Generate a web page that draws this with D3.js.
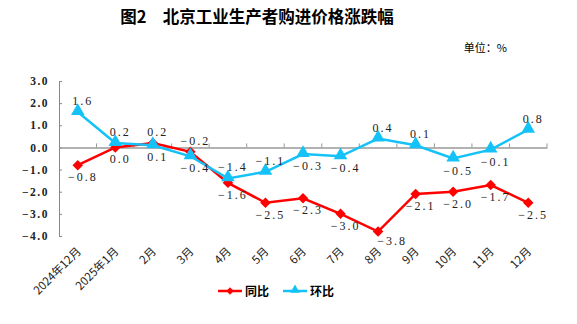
<!DOCTYPE html>
<html>
<head>
<meta charset="utf-8">
<script src="https://cdn.jsdelivr.net/npm/d3@7"></script>
<style>
  body { margin: 0; background: #fff; }
  text { font-family: "Liberation Serif", "Noto Sans CJK SC", serif; }
</style>
</head>
<body>
<div class="chart"></div>
<script>
var months = ["2024年12月", "2025年1月", "2月", "3月", "4月", "5月", "6月", "7月", "8月", "9月", "10月", "11月", "12月"];
var yoy = [-0.8, 0.0, 0.2, -0.2, -1.6, -2.5, -2.3, -3.0, -3.8, -2.1, -2.0, -1.7, -2.5];
var mom = [1.6, 0.2, 0.1, -0.4, -1.4, -1.1, -0.3, -0.4, 0.4, 0.1, -0.5, -0.1, 0.8];
var yTicks = [3, 2, 1, 0, -1, -2, -3, -4];
// label placement: 1 above, -1 below
var yoyPos = [-1, -1, 1, 1, -1, -1, -1, -1, -1, -1, -1, -1, -1];
var momPos = [1, 1, -1, -1, 1, 1, -1, -1, 1, 1, -1, -1, 1];

var fullWidth = 577, fullHeight = 324;
var margin = {top: 81, left: 59, right: 30, bottom: 88};
var width = 547 - margin.left;
var height = 236 - margin.top;

var svg = d3.select('.chart').append('svg')
  .attr('width', fullWidth)
  .attr('height', fullHeight);

svg.append('text')
  .attr('x', 257).attr('y', 23)
  .attr('text-anchor', 'middle')
  .style('font-family', '"Noto Sans CJK SC", sans-serif')
  .style('font-weight', 'bold')
  .style('font-size', '16.5px')
  .text('图2　北京工业生产者购进价格涨跌幅');

svg.append('text')
  .attr('x', 507).attr('y', 52)
  .attr('text-anchor', 'end')
  .style('font-family', '"Noto Sans CJK SC", sans-serif')
  .style('font-size', '11px')
  .text('单位：%');

var g = svg.append('g')
  .attr('transform', 'translate(' + margin.left + ',' + margin.top + ')');

var xScale = d3.scaleBand()
  .domain(months)
  .range([0, width]);
var bw = xScale.bandwidth();
function cx(i) { return xScale(months[i]) + bw / 2; }

var yScale = d3.scaleLinear()
  .domain([-4, 3])
  .range([height, 0]);

// y axis
var yAxis = d3.axisRight(yScale)
  .tickValues(yTicks)
  .tickSize(3)
  .tickFormat(function(d) { return d3.format('.1f')(d).replace('-', '\u2212'); });
var yAxisEle = g.append('g').call(yAxis);
yAxisEle.select('.domain').attr('stroke', '#888');
yAxisEle.selectAll('.tick line').attr('stroke', '#888');
yAxisEle.selectAll('.tick text')
  .attr('x', -10)
  .attr('text-anchor', 'end')
  .style('font-size', '11.5px')
  .style('font-weight', 'bold')
  .style('letter-spacing', '1.5px')
  .attr('fill', '#222');

// zero line with ticks
var xAxis = d3.axisBottom(xScale).tickSize(0).tickFormat('');
var xAxisEle = g.append('g')
  .attr('transform', 'translate(0,' + yScale(0) + ')')
  .call(xAxis);
xAxisEle.select('.domain').attr('stroke', '#999').attr('stroke-width', 1.5);
g.append('g').selectAll('line.sep')
  .data(d3.range(1, months.length + 1))
  .enter().append('line')
  .attr('x1', function(d) { return xScale.step() * d; })
  .attr('x2', function(d) { return xScale.step() * d; })
  .attr('y1', yScale(0) - 4)
  .attr('y2', yScale(0))
  .attr('stroke', '#999');

// category labels
g.append('g').selectAll('text.cat')
  .data(months)
  .enter().append('text')
  .attr('transform', function(d, i) {
    return 'translate(' + (cx(i) + 4) + ',' + (height + 16) + ') rotate(-45)';
  })
  .attr('text-anchor', 'end')
  .style('font-family', '"Noto Sans CJK SC", sans-serif')
  .style('font-size', '11.5px')
  .attr('fill', '#222')
  .text(function(d) { return d; });

var line = d3.line()
  .x(function(d, i) { return cx(i); })
  .y(function(d) { return yScale(d); });

var redC = '#FF0000', blueC = '#14C2F7';

g.append('path').datum(yoy)
  .attr('d', line).attr('fill', 'none')
  .attr('stroke', redC).attr('stroke-width', 2.5);
g.append('path').datum(mom)
  .attr('d', line).attr('fill', 'none')
  .attr('stroke', blueC).attr('stroke-width', 2.5);

var diamond = d3.symbol().type(d3.symbolDiamond2).size(70);
var tri = d3.symbol().type(d3.symbolTriangle).size(80);

g.selectAll('path.yoy')
  .data(yoy).enter().append('path')
  .attr('d', diamond)
  .attr('transform', function(d, i) { return 'translate(' + cx(i) + ',' + yScale(d) + ')'; })
  .attr('fill', redC);
g.selectAll('path.mom')
  .data(mom).enter().append('path')
  .attr('d', tri)
  .attr('transform', function(d, i) { return 'translate(' + cx(i) + ',' + (yScale(d) - 1) + ')'; })
  .attr('fill', blueC);

function fmt(v) { return d3.format('.1f')(v).replace('-', '\u2212'); }

function addLabels(data, pos, cls) {
  g.selectAll('text.' + cls)
    .data(data).enter().append('text')
    .attr('x', function(d, i) { return cx(i) + (d <= -3.5 ? 14 : 5); })
    .attr('y', function(d, i) { return yScale(d) + (pos[i] > 0 ? -7 : (d <= -3.5 ? 13 : 16)); })
    .attr('text-anchor', 'middle')
    .style('font-size', '12px')
    .style('letter-spacing', '2px')
    .attr('fill', '#222')
    .text(fmt);
}
addLabels(yoy, yoyPos, 'yoy-l');
addLabels(mom, momPos, 'mom-l');

// legend
var lg = svg.append('g').attr('transform', 'translate(218,291)');
lg.append('line').attr('x1', 0).attr('x2', 24).attr('stroke', redC).attr('stroke-width', 2.5);
lg.append('path').attr('d', diamond).attr('transform', 'translate(12,0) scale(0.7)').attr('fill', redC);
lg.append('text').attr('x', 27).attr('y', 5)
  .style('font-family', '"Noto Sans CJK SC", sans-serif')
  .style('font-size', '12px').style('font-weight', 'bold').text('同比');
lg.append('line').attr('x1', 65).attr('x2', 89).attr('stroke', blueC).attr('stroke-width', 2.5);
lg.append('path').attr('d', tri).attr('transform', 'translate(77,-1) scale(0.7)').attr('fill', blueC);
lg.append('text').attr('x', 92).attr('y', 5)
  .style('font-family', '"Noto Sans CJK SC", sans-serif')
  .style('font-size', '12px').style('font-weight', 'bold').text('环比');
</script>
</body>
</html>
